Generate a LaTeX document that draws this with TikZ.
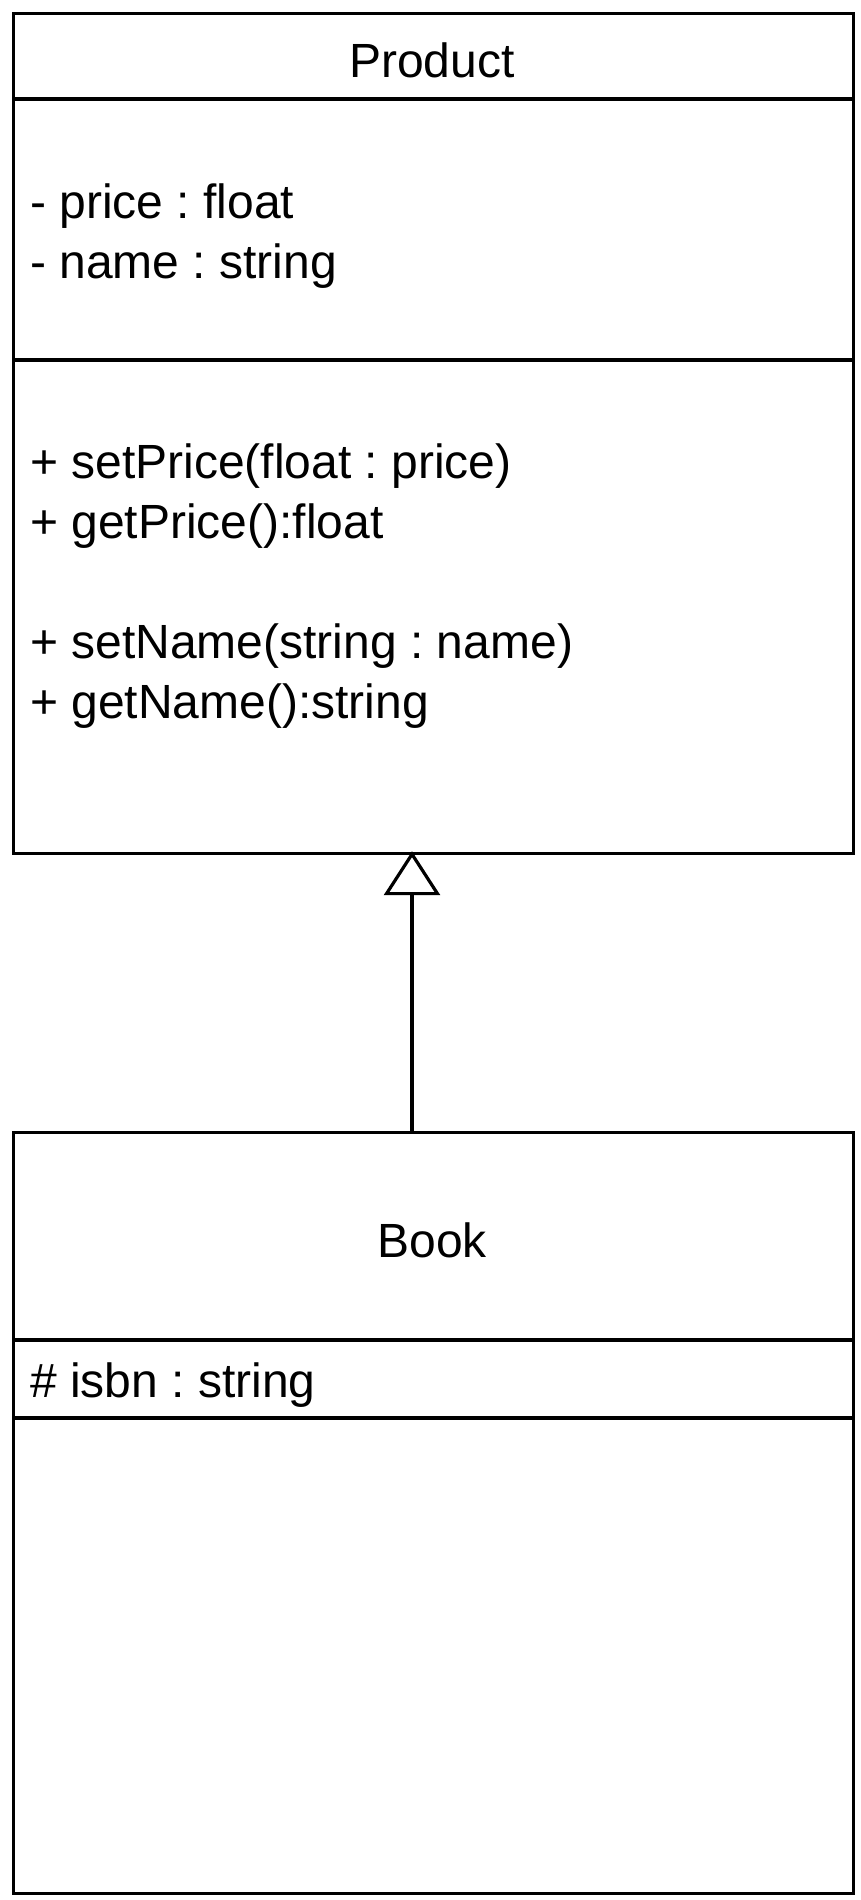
\documentclass[tikz,border=0pt]{standalone}
\usepackage{fontspec}
\setmainfont{Liberation Sans}
\usetikzlibrary{arrows.meta}
\frenchspacing
\tikzset{
  umlbox/.style={draw=black, line width=3.2pt, fill=white, anchor=north west, inner sep=0pt, minimum width=840pt},
  sep/.style={draw=black, line width=3.2pt},
  txt/.style={anchor=base west, inner sep=0pt, font=\frenchspacing\fontsize{48}{60}\selectfont},
  title/.style={anchor=base, inner sep=0pt, font=\fontsize{48}{60}\selectfont},
  inherit/.style={draw=black, line width=3.2pt, shorten >=-4pt, -{Triangle[open, length=44pt, width=56pt]}}
}
\begin{document}
\begin{tikzpicture}[x=1pt, y=-1pt]
\useasboundingbox[fill=white] (0,0) rectangle (860,1900);
% Product class
\node[umlbox, minimum height=840pt] (product) at (12,12) {};
\draw[sep] (12,99) -- (852,99);
\draw[sep] (12,360) -- (852,360);
\node[title] (ptitle) at (432,78) {Product};
\node[txt] (a1) at (30,218) {- price : float};
\node[txt] (a2) at (30,278) {- name : string};
\node[txt] (m1) at (30,478) {+ setPrice(float : price)};
\node[txt] (m2) at (30,538) {+ getPrice():float};
\node[txt] (m3) at (30,658) {+ setName(string : name)};
\node[txt] (m4) at (30,718) {+ getName():string};
% Book class
\node[umlbox, minimum height=761pt] (book) at (12,1131) {};
\draw[sep] (12,1340) -- (852,1340);
\draw[sep] (12,1418) -- (852,1418);
\node[title] (btitle) at (432,1257) {Book};
\node[txt] (b1) at (30,1397) {\# isbn : string};
% Generalization
\coordinate (gx) at (412,0);
\draw[inherit] (book.north -| gx) -- (product.south -| gx);
\end{tikzpicture}
\end{document}
